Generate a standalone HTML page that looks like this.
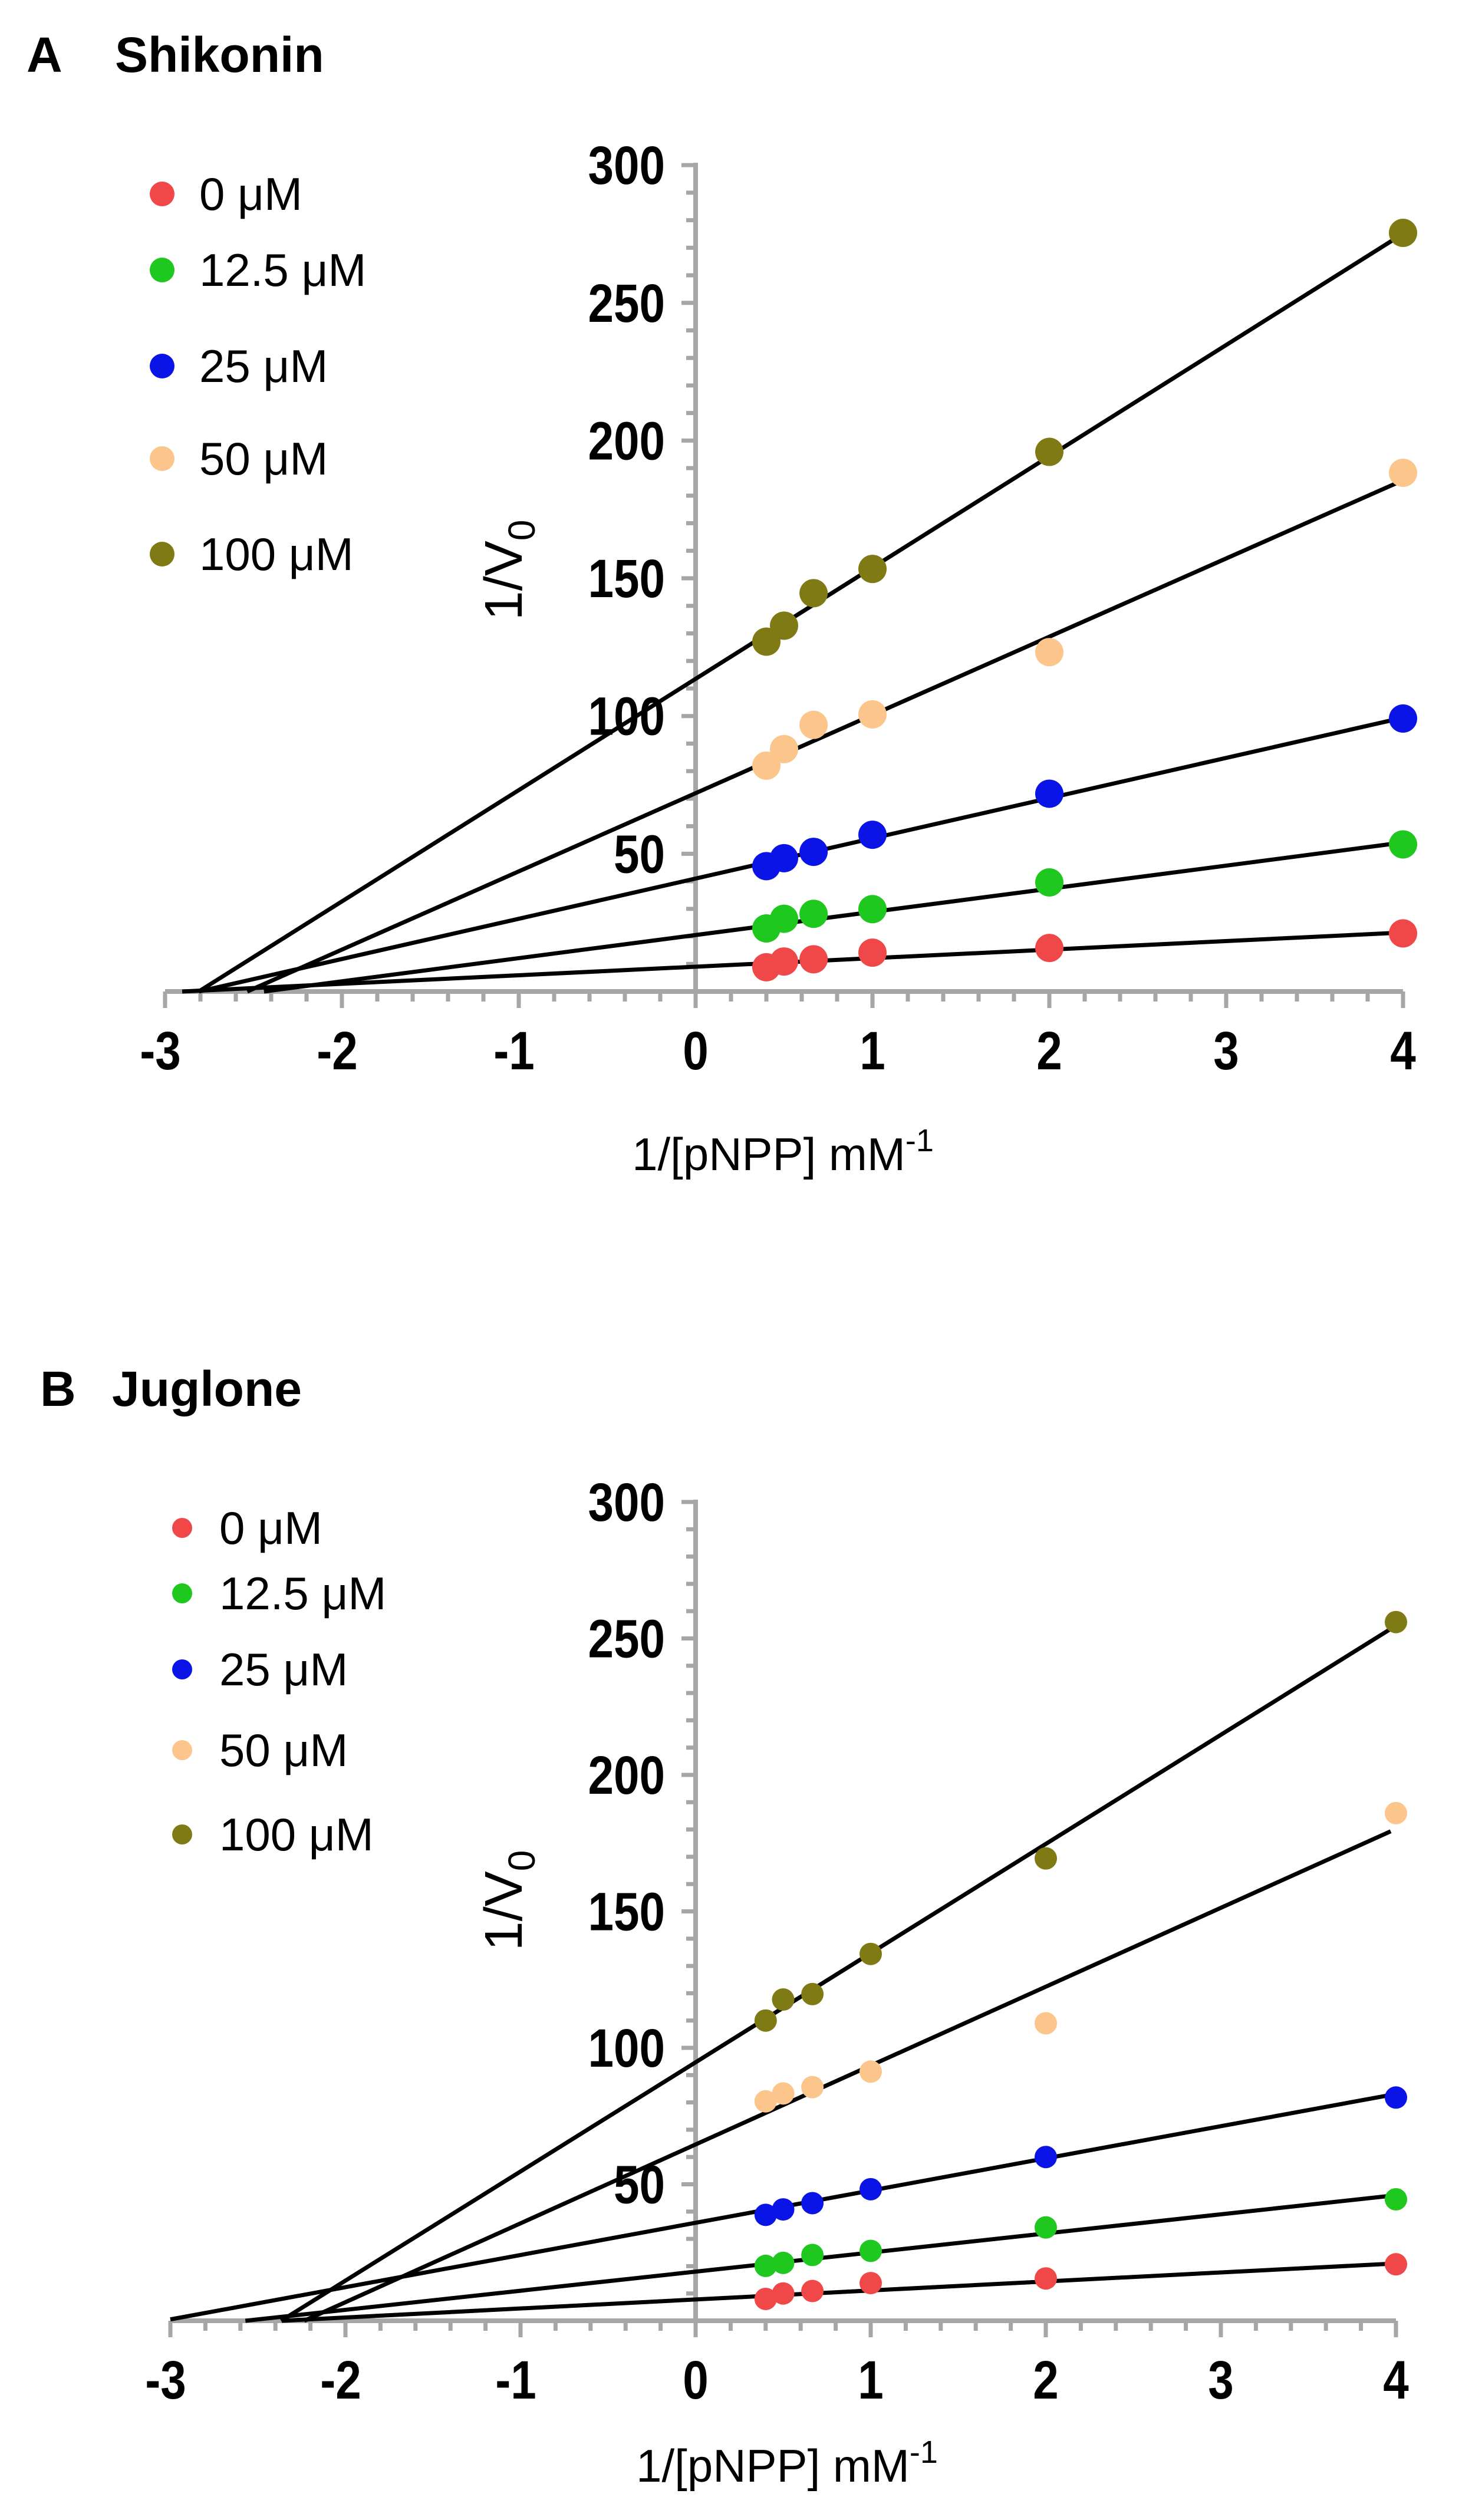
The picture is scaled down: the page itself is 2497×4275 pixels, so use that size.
<!DOCTYPE html>
<html><head><meta charset="utf-8"><style>
html,body{margin:0;padding:0;background:#fff;}
svg{display:block;}
text{font-family:"Liberation Sans",sans-serif;}
</style></head><body>
<svg id="fig" width="2497" height="4275" viewBox="0 0 2497 4275" xmlns="http://www.w3.org/2000/svg">
<rect width="2497" height="4275" fill="#fff"/>
<g id="panelA"></g>
<g id="panelB"></g>
</svg>
<script>
const xValues = [0.4, 0.5, 0.667, 1, 2, 4];
const concLabels = ["0 \u03bcM", "12.5 \u03bcM", "25 \u03bcM", "50 \u03bcM", "100 \u03bcM"];
const colors = ["#f04848", "#1ec81e", "#0a14e6", "#fbc58c", "#7f7a14"];
const xTicks = [-3, -2, -1, 0, 1, 2, 3, 4];
const yTicks = [50, 100, 150, 200, 250, 300];
// Panel A (Shikonin)
const shik0 = [8.8, 10.9, 11.7, 14.1, 15.8, 21.1];
const shik12 = [22.9, 26.4, 28.2, 29.9, 39.6, 53.4];
const shik25 = [45.5, 48.4, 50.7, 56.9, 71.8, 99.1];
const shik50 = [82, 88, 96.8, 100.6, 123.2, 188.3];
const shik100 = [127, 132.8, 144.6, 153.4, 195.9, 275.4];
const shikIntercepts = [9, 20.5, 41, 72, 113.5];
const shikSlopes = [3.1, 8.4, 14.6, 28.4, 40.4];
// Panel B (Juglone)
const jug0 = [8.0, 10.0, 10.9, 13.8, 15.5, 20.7];
const jug12 = [20.1, 21.2, 24.1, 25.6, 34.2, 44.5];
const jug25 = [38.8, 40.8, 43.1, 48.2, 60, 81.8];
const jug50 = [80.4, 83.3, 85.6, 91.3, 109, 186];
const jug100 = [110, 117.7, 119.7, 134.4, 169.4, 256];
const jugIntercepts = [7.8, 18, 35.9, 64.6, 94.7];
const jugSlopes = [3.3, 7, 11.8, 28.9, 40];

const NS = "http://www.w3.org/2000/svg";
function mk(parent, tag, attrs, txt){
  const e = document.createElementNS(NS, tag);
  for (const k in attrs) e.setAttribute(k, attrs[k]);
  if (txt !== undefined) e.textContent = txt;
  parent.appendChild(e);
  return e;
}

function drawPanel(g, cfg){
  const sx = v => cfg.x0 + v * cfg.ux;
  const sy = v => cfg.y0 - v * cfg.uy;
  const grey = "#a6a6a6";
  let t = mk(g, "text", {x: cfg.titleX, y: cfg.titleY, "font-size": 84, "font-weight": "bold", fill: "#000"}, cfg.letter);
  
  
  t = mk(g, "text", {x: cfg.nameX, y: cfg.titleY, "font-size": 84, "font-weight": "bold", fill: "#000"}, cfg.name);
  
  
  const xa = mk(g, "g", {});
  
  
  mk(xa, "line", {x1: sx(-3), y1: cfg.y0, x2: sx(4), y2: cfg.y0, stroke: grey, "stroke-width": 8});
  for (let v = -3; v <= 4.001; v += 0.2) {
    const major = Math.abs(v - Math.round(v)) < 0.01;
    mk(xa, "line", {x1: sx(v), y1: cfg.y0, x2: sx(v), y2: cfg.y0 + (major ? 28 : 17), stroke: grey, "stroke-width": 7});
  }
  xTicks.forEach(v => {
    const px = sx(v) - (v < 0 ? 8 : 0);
    const l = mk(xa, "text", {x: 0, y: 0, "font-size": 92, "font-weight": "bold", "text-anchor": "middle", fill: "#000", transform: `translate(${px},${cfg.y0 + 132}) scale(0.85,1)`}, String(v));
    
    
  });
  const ya = mk(g, "g", {});
  
  
  mk(ya, "line", {x1: cfg.x0, y1: cfg.y0, x2: cfg.x0, y2: sy(300) - 4, stroke: grey, "stroke-width": 8});
  for (let v = 10; v <= 300.01; v += 10) {
    const major = Math.abs(v / 50 - Math.round(v / 50)) < 0.01;
    mk(ya, "line", {x1: cfg.x0, y1: sy(v), x2: cfg.x0 - (major ? 24 : 16), y2: sy(v), stroke: grey, "stroke-width": 7});
  }
  yTicks.forEach(v => {
    const l = mk(ya, "text", {x: 0, y: 0, "font-size": 92, "font-weight": "bold", "text-anchor": "end", fill: "#000", transform: `translate(${cfg.x0 - 52},${sy(v) + 32}) scale(0.85,1)`}, String(v));
    
    
  });
  const yt = mk(g, "text", {x: 0, y: 0, "font-size": 90, "text-anchor": "middle", fill: "#000", transform: `translate(${cfg.yTitleX},${cfg.yTitleY}) rotate(-90)`});
  
  
  yt.appendChild(document.createTextNode("1/V"));
  mk(yt, "tspan", {dy: 22, "font-size": 64}, "0");
  const xt = mk(g, "text", {x: cfg.xTitleX, y: cfg.xTitleY, "font-size": 78, "text-anchor": "middle", fill: "#000"});
  
  
  xt.appendChild(document.createTextNode("1/[pNPP] mM"));
  mk(xt, "tspan", {dy: -32, "font-size": 54}, "-1");
  cfg.intercepts.forEach((b, i) => {
    const m = cfg.slopes[i];
    const xs = Math.max(-3, -b / m);
    const ln = mk(g, "line", {x1: sx(xs), y1: sy(m * xs + b), x2: sx(3.97), y2: sy(m * 3.97 + b), stroke: "#000", "stroke-width": 7});
    
    
  });
  cfg.series.forEach((s, i) => {
    s.forEach((v, j) => {
      const c = mk(g, "circle", {cx: sx(xValues[j]), cy: sy(v), r: cfg.r, fill: colors[i]});
      
      
    });
  });
  concLabels.forEach((lab, i) => {
    const le = mk(g, "g", {});
    
    
    mk(le, "circle", {cx: cfg.legX, cy: cfg.legY[i], r: cfg.legR, fill: colors[i]});
    mk(le, "text", {x: cfg.legTX, y: cfg.legY[i] + 27, "font-size": 78, fill: "#000"}, lab);
  });
}

drawPanel(document.getElementById("panelA"), {
  letter: "A", name: "Shikonin", titleX: 45, nameX: 195, titleY: 122,
  x0: 1180, ux: 300, y0: 1682, uy: 4.673,
  yTitleX: 885, yTitleY: 967, xTitleX: 1328, xTitleY: 1985,
  intercepts: shikIntercepts, slopes: shikSlopes,
  series: [shik0, shik12, shik25, shik50, shik100], r: 24,
  legX: 275, legTX: 338, legR: 21, legY: [329, 458, 621, 778, 940]
});
drawPanel(document.getElementById("panelB"), {
  letter: "B", name: "Juglone", titleX: 68, nameX: 190, titleY: 2385,
  x0: 1180, ux: 297, y0: 3937, uy: 4.63,
  yTitleX: 885, yTitleY: 3224, xTitleX: 1335, xTitleY: 4210,
  intercepts: jugIntercepts, slopes: jugSlopes,
  series: [jug0, jug12, jug25, jug50, jug100], r: 19,
  legX: 309, legTX: 372, legR: 17, legY: [2592, 2703, 2832, 2969, 3112]
});
</script>
</body></html>
